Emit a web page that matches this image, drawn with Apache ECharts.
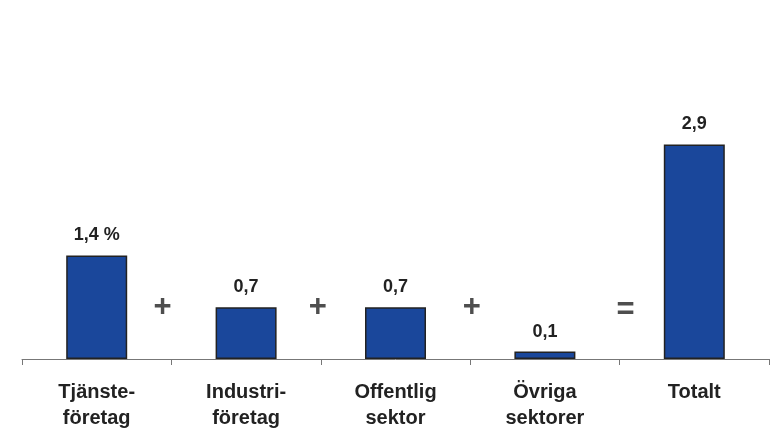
<!DOCTYPE html>
<html>
<head>
<meta charset="utf-8">
<script src="https://cdn.jsdelivr.net/npm/echarts@6/dist/echarts.min.js"></script>
<style>
  html, body { margin: 0; padding: 0; background: #fff; }
  #chart { width: 779px; height: 447px; }
</style>
</head>
<body>
<div id="chart"></div>
<script>
// kategorier och värden (procentenheter)
var categories = ['Tjänste-\nföretag', 'Industri-\nföretag', 'Offentlig\nsektor', 'Övriga\nsektorer', 'Totalt'];
var values = [1.4, 0.7, 0.7, 0.1, 2.9];
var valueLabels = ['1,4 %', '0,7', '0,7', '0,1', '2,9'];

// operatorer mellan staplarna
var operators = ['+', '+', '+', '='];
var operatorPos = [0.94, 1.98, 3.01, 4.04];
var operatorLevel = [0.69, 0.69, 0.69, 0.65];

var chart = echarts.init(document.getElementById('chart'));

var font = 'Liberation Sans, Arial, sans-serif';

var option = {
  animation: false,
  grid: { left: 22, right: 10, top: 63, bottom: 88 },
  xAxis: [{
    type: 'category',
    data: categories,
    axisLine: { lineStyle: { color: '#777', width: 1 } },
    axisTick: { show: true, length: 6, lineStyle: { color: '#777' } },
    axisLabel: {
      color: '#222',
      fontFamily: font,
      fontWeight: 'bold',
      fontSize: 20,
      lineHeight: 26,
      margin: 20
    }
  }, {
    type: 'value',
    min: 0,
    max: 5,
    show: false
  }],
  yAxis: {
    type: 'value',
    min: 0,
    max: 4,
    show: false,
    splitLine: { show: false }
  },
  series: [{
    type: 'bar',
    data: values,
    barWidth: 61,
    itemStyle: { color: '#1a479b', borderColor: '#222', borderWidth: 1.5 },
    label: {
      show: true,
      position: 'top',
      distance: 11,
      color: '#222',
      fontFamily: font,
      fontWeight: 'bold',
      fontSize: 18,
      formatter: function (p) { return valueLabels[p.dataIndex]; }
    }
  }, {
    type: 'scatter',
    xAxisIndex: 1,
    symbolSize: 0,
    data: operatorPos.map(function (x, i) { return [x, operatorLevel[i]]; }),
    label: {
      show: true,
      position: 'inside',
      color: '#222',
      fontFamily: font,
      fontWeight: 'bold',
      fontSize: 31,
      formatter: function (p) { return operators[p.dataIndex]; }
    },
    silent: true
  }]
};

chart.setOption(option);
</script>
</body>
</html>
